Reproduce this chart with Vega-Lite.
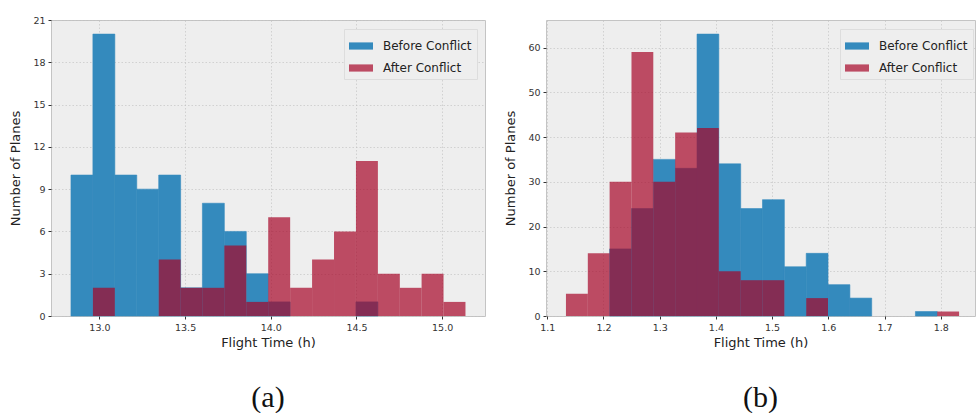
{
  "$schema": "https://vega.github.io/schema/vega-lite/v6.json",
  "background": "white",
  "padding": {"left": 9, "top": 14, "right": 0, "bottom": 0},
  "spacing": 18,
  "datasets": {
    "a": [
      {"s": "Before Conflict", "x0": 12.834, "x1": 12.962, "n": 10},
      {"s": "Before Conflict", "x0": 12.962, "x1": 13.090, "n": 20},
      {"s": "Before Conflict", "x0": 13.090, "x1": 13.218, "n": 10},
      {"s": "Before Conflict", "x0": 13.218, "x1": 13.346, "n": 9},
      {"s": "Before Conflict", "x0": 13.346, "x1": 13.474, "n": 10},
      {"s": "Before Conflict", "x0": 13.474, "x1": 13.601, "n": 2},
      {"s": "Before Conflict", "x0": 13.601, "x1": 13.729, "n": 8},
      {"s": "Before Conflict", "x0": 13.729, "x1": 13.857, "n": 6},
      {"s": "Before Conflict", "x0": 13.857, "x1": 13.985, "n": 3},
      {"s": "Before Conflict", "x0": 13.985, "x1": 14.113, "n": 1},
      {"s": "Before Conflict", "x0": 14.497, "x1": 14.625, "n": 1},
      {"s": "After Conflict", "x0": 12.962, "x1": 13.090, "n": 2},
      {"s": "After Conflict", "x0": 13.346, "x1": 13.474, "n": 4},
      {"s": "After Conflict", "x0": 13.474, "x1": 13.601, "n": 2},
      {"s": "After Conflict", "x0": 13.601, "x1": 13.729, "n": 2},
      {"s": "After Conflict", "x0": 13.729, "x1": 13.857, "n": 5},
      {"s": "After Conflict", "x0": 13.857, "x1": 13.985, "n": 1},
      {"s": "After Conflict", "x0": 13.985, "x1": 14.113, "n": 7},
      {"s": "After Conflict", "x0": 14.113, "x1": 14.241, "n": 2},
      {"s": "After Conflict", "x0": 14.241, "x1": 14.369, "n": 4},
      {"s": "After Conflict", "x0": 14.369, "x1": 14.497, "n": 6},
      {"s": "After Conflict", "x0": 14.497, "x1": 14.625, "n": 11},
      {"s": "After Conflict", "x0": 14.625, "x1": 14.753, "n": 3},
      {"s": "After Conflict", "x0": 14.753, "x1": 14.880, "n": 2},
      {"s": "After Conflict", "x0": 14.880, "x1": 15.008, "n": 3},
      {"s": "After Conflict", "x0": 15.008, "x1": 15.136, "n": 1}
    ],
    "b": [
      {"s": "Before Conflict", "x0": 1.2109, "x1": 1.2498, "n": 15},
      {"s": "Before Conflict", "x0": 1.2498, "x1": 1.2886, "n": 24},
      {"s": "Before Conflict", "x0": 1.2886, "x1": 1.3275, "n": 35},
      {"s": "Before Conflict", "x0": 1.3275, "x1": 1.3664, "n": 33},
      {"s": "Before Conflict", "x0": 1.3664, "x1": 1.4052, "n": 63},
      {"s": "Before Conflict", "x0": 1.4052, "x1": 1.4441, "n": 34},
      {"s": "Before Conflict", "x0": 1.4441, "x1": 1.4829, "n": 24},
      {"s": "Before Conflict", "x0": 1.4829, "x1": 1.5218, "n": 26},
      {"s": "Before Conflict", "x0": 1.5218, "x1": 1.5607, "n": 11},
      {"s": "Before Conflict", "x0": 1.5607, "x1": 1.5995, "n": 14},
      {"s": "Before Conflict", "x0": 1.5995, "x1": 1.6384, "n": 7},
      {"s": "Before Conflict", "x0": 1.6384, "x1": 1.6772, "n": 4},
      {"s": "Before Conflict", "x0": 1.7550, "x1": 1.7938, "n": 1},
      {"s": "After Conflict", "x0": 1.1332, "x1": 1.1721, "n": 5},
      {"s": "After Conflict", "x0": 1.1721, "x1": 1.2109, "n": 14},
      {"s": "After Conflict", "x0": 1.2109, "x1": 1.2498, "n": 30},
      {"s": "After Conflict", "x0": 1.2498, "x1": 1.2886, "n": 59},
      {"s": "After Conflict", "x0": 1.2886, "x1": 1.3275, "n": 30},
      {"s": "After Conflict", "x0": 1.3275, "x1": 1.3664, "n": 41},
      {"s": "After Conflict", "x0": 1.3664, "x1": 1.4052, "n": 42},
      {"s": "After Conflict", "x0": 1.4052, "x1": 1.4441, "n": 10},
      {"s": "After Conflict", "x0": 1.4441, "x1": 1.4829, "n": 8},
      {"s": "After Conflict", "x0": 1.4829, "x1": 1.5218, "n": 8},
      {"s": "After Conflict", "x0": 1.5607, "x1": 1.5995, "n": 4},
      {"s": "After Conflict", "x0": 1.7938, "x1": 1.8327, "n": 1}
    ]
  },
  "hconcat": [
    {
      "width": 434,
      "height": 296,
      "data": {"name": "a"},
      "title": {"text": "(a)", "orient": "bottom", "font": "Liberation Serif", "fontSize": 30, "fontWeight": "normal", "color": "#111111", "offset": 33},
      "mark": {"type": "bar", "binSpacing": 0, "strokeWidth": 0.6},
      "encoding": {
        "x": {"field": "x0", "type": "quantitative", "scale": {"domain": [12.7175, 15.25], "nice": false, "zero": false},
          "axis": {"title": "Flight Time (h)", "values": [13.0, 13.5, 14.0, 14.5, 15.0], "format": ".1f"}},
        "x2": {"field": "x1"},
        "y": {"field": "n", "type": "quantitative", "stack": null, "scale": {"domain": [0, 21], "nice": false},
          "axis": {"title": "Number of Planes", "values": [0, 3, 6, 9, 12, 15, 18, 21]}},
        "y2": {"datum": 0},
        "color": {"field": "s", "type": "nominal",
          "scale": {"domain": ["Before Conflict", "After Conflict"], "range": ["#348ABD", "rgba(166,6,40,0.7)"]},
          "legend": {"title": null, "orient": "none", "legendX": 293, "legendY": 9}},
        "stroke": {"field": "s", "type": "nominal",
          "scale": {"domain": ["Before Conflict", "After Conflict"], "range": ["#348ABD", "transparent"]},
          "legend": null}
      }
    },
    {
      "width": 429,
      "height": 296,
      "data": {"name": "b"},
      "title": {"text": "(b)", "orient": "bottom", "font": "Liberation Serif", "fontSize": 30, "fontWeight": "normal", "color": "#111111", "offset": 33},
      "mark": {"type": "bar", "binSpacing": 0, "strokeWidth": 0.6},
      "encoding": {
        "x": {"field": "x0", "type": "quantitative", "scale": {"domain": [1.0977, 1.861], "nice": false, "zero": false},
          "axis": {"title": "Flight Time (h)", "values": [1.1, 1.2, 1.3, 1.4, 1.5, 1.6, 1.7, 1.8], "format": ".1f"}},
        "x2": {"field": "x1"},
        "y": {"field": "n", "type": "quantitative", "stack": null, "scale": {"domain": [0, 66.15], "nice": false},
          "axis": {"title": "Number of Planes", "values": [0, 10, 20, 30, 40, 50, 60]}},
        "y2": {"datum": 0},
        "color": {"field": "s", "type": "nominal",
          "scale": {"domain": ["Before Conflict", "After Conflict"], "range": ["#348ABD", "rgba(166,6,40,0.7)"]},
          "legend": {"title": null, "orient": "none", "legendX": 294, "legendY": 9}},
        "stroke": {"field": "s", "type": "nominal",
          "scale": {"domain": ["Before Conflict", "After Conflict"], "range": ["#348ABD", "transparent"]},
          "legend": null}
      }
    }
  ],
  "resolve": {"legend": {"color": "independent", "stroke": "independent"}, "scale": {"color": "independent", "stroke": "independent"}},
  "config": {
    "font": "DejaVu Sans",
    "view": {"fill": "#eeeeee", "stroke": "#c4c4c4", "strokeWidth": 1},
    "axis": {
      "domain": false,
      "grid": true,
      "gridColor": "#c0c0c0",
      "gridDash": [1.5, 2],
      "gridWidth": 0.8,
      "gridOpacity": 0.8,
      "zindex": 1,
      "ticks": true,
      "tickColor": "#333333",
      "tickSize": 3,
      "labelFont": "DejaVu Sans",
      "labelFontSize": 9.5,
      "labelColor": "#333333",
      "labelPadding": 3,
      "titleFont": "DejaVu Sans",
      "titleFontSize": 13,
      "titleFontWeight": "normal",
      "titleColor": "#222222"
    },
    "axisY": {"titlePadding": 10},
    "axisX": {"titlePadding": 5},
    "legend": {
      "labelFont": "DejaVu Sans",
      "labelFontSize": 12,
      "labelColor": "#222222",
      "symbolType": "M-1,-0.3H1V0.3H-1Z",
      "symbolSize": 576,
      "symbolStrokeWidth": 0,
      "fillColor": "#eeeeee",
      "strokeColor": "#dddddd",
      "padding": 5,
      "rowPadding": 4,
      "labelOffset": 10
    }
  }
}
